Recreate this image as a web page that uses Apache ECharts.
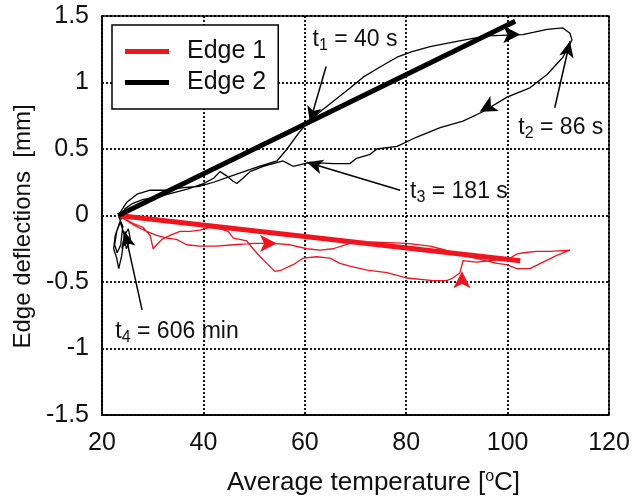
<!DOCTYPE html>
<html>
<head>
<meta charset="utf-8">
<script src="https://cdn.jsdelivr.net/npm/echarts@6/dist/echarts.min.js"></script>
<style>html,body{margin:0;padding:0;background:#fff}#c{width:636px;height:501px}</style>
</head>
<body>
<div id="c"></div>
<script>
// ---- data (temperature [°C], deflection [mm]) ----
const xTicks = [20, 40, 60, 80, 100, 120];
const yTicks = [-1.5, -1, -0.5, 0, 0.5, 1, 1.5];
const seriesNames = ['Edge 1', 'Edge 2'];

// linear fits (thick lines)
const edge1Fit = [[23.2, 0], [102.5, -0.34]];
const edge2Fit = [[23.2, 0], [101.5, 1.46]];

// measured hysteresis curves (thin lines)
const edge1Curve = [
  [23.2,0],[26.2,-0.06],[28.1,-0.09],[29.5,-0.15],[30.1,-0.25],[30.8,-0.22],[31.8,-0.18],[33.4,-0.15],
  [35.4,-0.12],[37.4,-0.12],[39.3,-0.11],[41.3,-0.09],[43.3,-0.10],[44.9,-0.12],[45.9,-0.17],[47.2,-0.18],
  [48.5,-0.19],[49.8,-0.25],[51.2,-0.31],[52.5,-0.36],[54.1,-0.42],[55.4,-0.41],[57.7,-0.37],[59.7,-0.32],
  [62.3,-0.31],[65,-0.32],[66.9,-0.36],[68.9,-0.38],[72.3,-0.41],[76.2,-0.43],[80.2,-0.47],[85.3,-0.49],
  [88,-0.49],[89.2,-0.47],[90.6,-0.43],[91.2,-0.34],[93.9,-0.35],[96.5,-0.34],[99.2,-0.33],[100.5,-0.32],
  [101.8,-0.29],[103.1,-0.28],[105.7,-0.27],[108.4,-0.27],[112.3,-0.26],[109.7,-0.30],[107,-0.35],
  [104.4,-0.40],[101.8,-0.40],[99.8,-0.37],[97.9,-0.36],[94.6,-0.33],[91.3,-0.30],[86.7,-0.25],[84.7,-0.23],
  [80.1,-0.21],[74,-0.20],[68.9,-0.21],[65.6,-0.25],[63,-0.26],[60.4,-0.25],[57.1,-0.22],[53.8,-0.21],
  [49.8,-0.21],[45.9,-0.22],[42.6,-0.23],[39.3,-0.23],[36.7,-0.22],[34.7,-0.18],[32.8,-0.17],[30.8,-0.15],
  [28.8,-0.12],[26.2,-0.07],[23.2,0]
];
const edge2Curve = [
  [23.2,0],[24.9,0.10],[26.9,0.16],[29.5,0.19],[32.8,0.19],[36,0.21],[39.3,0.22],[42,0.25],[45,0.29],
  [48,0.33],[51,0.37],[54.5,0.41],[56.5,0.50],[59,0.63],[60.6,0.70],[63,0.78],[66,0.87],[69,0.96],
  [71.5,1.04],[75,1.12],[78.2,1.19],[81,1.23],[84.7,1.27],[90,1.31],[95.9,1.35],[103,1.36],[107.8,1.40],
  [110.9,1.41],[112.3,1.37],[112.7,1.32],[110.9,1.19],[107.8,1.06],[104.4,0.96],[99.9,0.89],[95.1,0.78],
  [91.2,0.71],[86.7,0.66],[82.1,0.59],[78.2,0.52],[74.2,0.50],[72.9,0.46],[70.2,0.43],[68.9,0.39],
  [65.6,0.39],[61,0.40],[57.7,0.37],[56.7,0.39],[55.7,0.41],[51.8,0.37],[49.2,0.33],[47.8,0.28],
  [46.6,0.24],[45.8,0.26],[44.5,0.30],[43.3,0.33],[42,0.28],[40,0.24],[37,0.20],[34,0.17],[31,0.14],
  [28,0.12],[26,0.09],[24.5,0.05],[23.5,-0.05],[22.6,-0.15],[22.3,-0.25],[22.9,-0.32],[23.3,-0.40],
  [23.9,-0.30],[24.4,-0.15],[25.2,-0.10],[25.6,-0.18],[24.8,-0.25],[24.2,-0.12],[23.6,-0.05],[22.9,-0.12],
  [22.5,-0.22],[23.0,-0.28],[23.7,-0.22],[24.1,-0.08],[23.2,0]
];

// direction arrows on curves: [T, D, rotation]
const edge1Arrows = [[54.5, -0.21, -90], [91, -0.42, 0]];
const edge2Arrows = [[102.5, 1.36, -90], [94.5, 0.78, 119]];

// time annotations
const annoLabels = ['1|= 40 s', '2|= 86 s', '3|= 181 s', '4|= 606 min'];
const annoTextAt = [[69.9, 1.32], [110.5, 0.66], [90.4, 0.18], [34.8, -0.87]];
const annoFrom = [[64.2, 1.12], [109.3, 0.81], [78.8, 0.19], [27.9, -0.71]];
const annoTo = [[61, 0.70], [112.3, 1.31], [60.4, 0.40], [24.5, -0.12]];

// ---- chart ----
const RED = '#f0141e', BLACK = '#000';
const FONT = '"Liberation Sans", Arial, Helvetica, sans-serif';
const chart = echarts.init(document.getElementById('c'), null, {renderer: 'canvas'});

const labelData = annoLabels.map((s, i) => {
  const [sub, rest] = s.split('|');
  return {value: annoTextAt[i], txt: '{t|t}{s|' + sub + '}{t| ' + rest + '}'};
});

const option = {
  animation: false,
  textStyle: {fontFamily: FONT},
  grid: {left: 102, right: 27, top: 16, bottom: 82, show: true, borderColor: '#000', borderWidth: 1.5},
  legend: {
    data: seriesNames.map(n => ({name: n, icon: 'rect'})),
    left: 112, top: 25, orient: 'vertical',
    backgroundColor: '#fff',
    borderColor: '#000', borderWidth: 1.5, borderRadius: 0,
    padding: [14, 12, 14, 13],
    itemWidth: 44, itemHeight: 5, itemGap: 6,
    textStyle: {fontSize: 25, lineHeight: 25, color: '#111', fontFamily: FONT, padding: [0, 0, 0, 13]}
  },
  xAxis: {
    type: 'value', min: xTicks[0], max: xTicks[xTicks.length - 1], interval: 20,
    name: 'Average temperature [{sup|o}C]',
    nameLocation: 'middle', nameGap: 54,
    nameTextStyle: {fontSize: 26, color: '#111', fontFamily: FONT, padding: [0, 0, 0, 36],
      rich: {sup: {fontSize: 16, padding: [0, 0, 12, 0], color: '#111', fontFamily: FONT}}},
    axisLine: {show: true, onZero: false, lineStyle: {color: '#000', width: 1.5}},
    axisTick: {show: false},
    axisLabel: {fontSize: 25, color: '#111', margin: 16, fontFamily: FONT},
    splitLine: {show: true, lineStyle: {color: '#000', width: 1.8, type: [2, 2]}}
  },
  yAxis: {
    type: 'value', min: yTicks[0], max: yTicks[yTicks.length - 1], interval: 0.5,
    name: 'Edge deflections  [mm]',
    nameLocation: 'middle', nameGap: 58,
    nameTextStyle: {fontSize: 24, color: '#111', fontFamily: FONT, padding: [0, 22, 0, 0]},
    axisLine: {show: true, onZero: false, lineStyle: {color: '#000', width: 1.5}},
    axisTick: {show: false},
    axisLabel: {fontSize: 25, color: '#111', margin: 13, fontFamily: FONT},
    splitLine: {show: true, lineStyle: {color: '#000', width: 1.8, type: [2, 2]}}
  },
  series: [
    {name: 'Edge 1 data', type: 'line', data: edge1Curve, symbol: 'none', silent: true,
     lineStyle: {color: RED, width: 1.3}, z: 2},
    {name: 'Edge 2 data', type: 'line', data: edge2Curve, symbol: 'none', silent: true,
     lineStyle: {color: BLACK, width: 1.3}, z: 2},
    {name: seriesNames[0], type: 'line', data: edge1Fit, symbol: 'none', silent: true,
     itemStyle: {color: RED}, lineStyle: {color: RED, width: 5}, z: 3},
    {name: seriesNames[1], type: 'line', data: edge2Fit, symbol: 'none', silent: true,
     itemStyle: {color: BLACK}, lineStyle: {color: BLACK, width: 5}, z: 3},
    {name: 'arrows1', type: 'scatter', silent: true, z: 4,
     data: edge1Arrows.map(a => ({value: [a[0], a[1]], symbolRotate: a[2]})),
     symbol: 'arrow', symbolSize: [13, 17], itemStyle: {color: RED, opacity: 1}},
    {name: 'arrows2', type: 'scatter', silent: true, z: 4,
     data: edge2Arrows.map(a => ({value: [a[0], a[1]], symbolRotate: a[2]})),
     symbol: 'arrow', symbolSize: [13, 17], itemStyle: {color: BLACK, opacity: 1}},
    {name: 'annotations', type: 'scatter', silent: true, z: 5,
     symbolSize: 1, itemStyle: {color: 'rgba(0,0,0,0)', opacity: 1},
     data: labelData.map(d => ({value: d.value, txt: d.txt})),
     label: {
       show: true, position: 'inside', color: '#111',
       formatter: p => p.data.txt,
       rich: {
         t: {fontSize: 23, color: '#111', fontFamily: FONT},
         s: {fontSize: 16, color: '#111', fontFamily: FONT, padding: [12, 0, 0, 0]}
       }
     },
     markLine: {
       silent: true, symbol: ['none', 'arrow'], symbolSize: [11, 16],
       label: {show: false},
       lineStyle: {color: '#000', width: 1.5, type: 'solid', opacity: 1},
       emphasis: {disabled: true},
       data: annoFrom.map((f, i) => [{coord: f}, {coord: annoTo[i]}])
     }
    }
  ]
};
chart.setOption(option);
</script>
</body>
</html>
